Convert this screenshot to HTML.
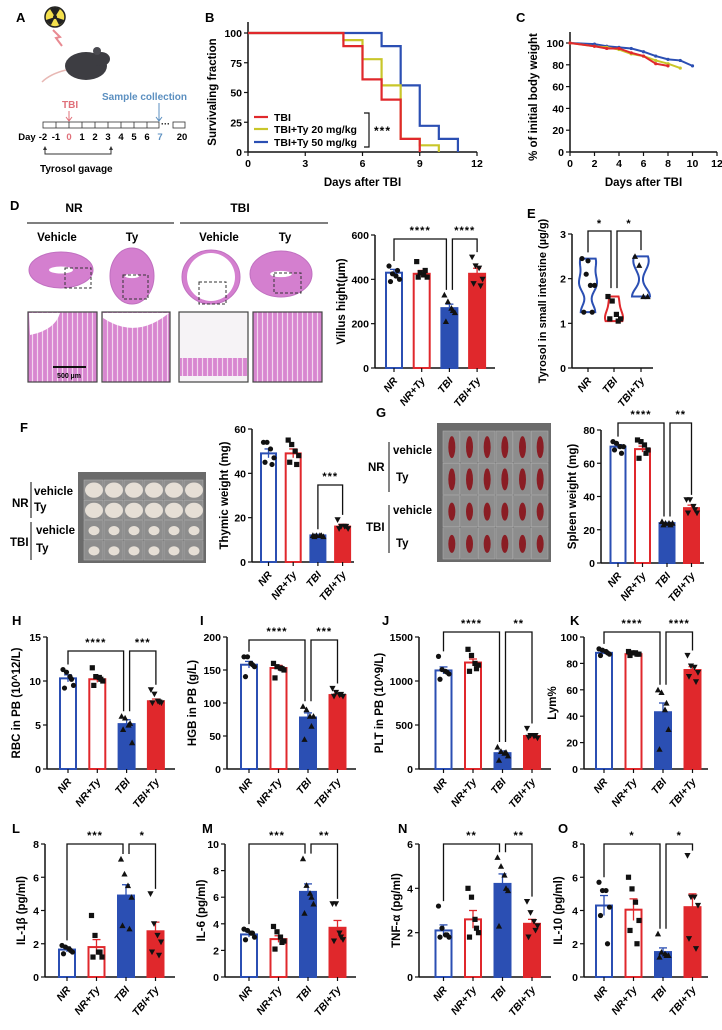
<!DOCTYPE html>
<html><head><meta charset="utf-8">
<style>
html,body{margin:0;padding:0;background:#fff;}
svg{display:block;font-family:"Liberation Sans",Arial,sans-serif;font-weight:bold;}
</style></head>
<body>
<svg id="fig" width="722" height="1030" viewBox="0 0 722 1030" xmlns="http://www.w3.org/2000/svg">
<defs>
<pattern id="villi" width="5" height="10" patternUnits="userSpaceOnUse"><rect width="5" height="10" fill="#d886d0"/><line x1="2.5" y1="0" x2="2.5" y2="10" stroke="#f3d6ee" stroke-width="1.2"/></pattern>
</defs>
<!-- Panel A -->
<g>
<text x="16" y="22" font-size="13">A</text>
<circle cx="55" cy="17" r="10" fill="#f4e04d" stroke="#222" stroke-width="1.5"/>
<circle cx="55" cy="17" r="2" fill="#222"/>
<path d="M55 17 L50 9 A9 9 0 0 1 60 9 Z M55 17 L64 20 A9 9 0 0 1 59 25 Z M55 17 L51 25 A9 9 0 0 1 46 20 Z" fill="#222"/>
<path d="M53 30 L60 37 L56 38 L62 46" stroke="#e88a92" stroke-width="2" fill="none"/>
<g>
<ellipse cx="86" cy="66" rx="21" ry="14" fill="#3d3d42"/>
<ellipse cx="101" cy="59" rx="9" ry="7" fill="#3d3d42"/>
<circle cx="97" cy="51" r="4" fill="#4a4a50"/>
<path d="M66 70 Q50 74 42 82" stroke="#e8b8b4" stroke-width="1.5" fill="none"/>
</g>
<g>
<rect x="43" y="122" width="116" height="6" fill="#fff" stroke="#333" stroke-width="0.8"/>
<g stroke="#333" stroke-width="0.8">
<line x1="56" y1="122" x2="56" y2="128"/><line x1="69" y1="122" x2="69" y2="128"/><line x1="82" y1="122" x2="82" y2="128"/><line x1="95" y1="122" x2="95" y2="128"/><line x1="108" y1="122" x2="108" y2="128"/><line x1="121" y1="122" x2="121" y2="128"/><line x1="134" y1="122" x2="134" y2="128"/><line x1="147" y1="122" x2="147" y2="128"/>
</g>
<text x="161" y="127" font-size="9">···</text>
<rect x="173" y="122" width="12" height="6" fill="#fff" stroke="#333" stroke-width="0.8"/>
<g font-size="9.5" text-anchor="middle">
<text x="27" y="140">Day</text><text x="43" y="140">-2</text><text x="56" y="140">-1</text><text x="69" y="140" fill="#e0707a">0</text>
<text x="82" y="140">1</text><text x="95" y="140">2</text><text x="108" y="140">3</text><text x="121" y="140">4</text>
<text x="134" y="140">5</text><text x="147" y="140">6</text><text x="160" y="140" fill="#5b8fc0">7</text><text x="182" y="140">20</text>
</g>
<text x="62" y="108" font-size="10" fill="#e0707a">TBI</text>
<line x1="69" y1="111" x2="69" y2="120" stroke="#e0707a" stroke-width="1"/><path d="M66 117 L69 121 L72 117" fill="none" stroke="#e0707a"/>
<text x="102" y="100" font-size="10" fill="#5b8fc0">Sample collection</text>
<line x1="159" y1="103" x2="159" y2="120" stroke="#5b8fc0" stroke-width="1"/><path d="M156 117 L159 121 L162 117" fill="none" stroke="#5b8fc0"/>
<path d="M45 148 L45 154 L111 154 L111 148" fill="none" stroke="#333" stroke-width="1"/>
<path d="M43 150 L45 146 L47 150 Z M109 150 L111 146 L113 150 Z" fill="#333"/>
<text x="40" y="172" font-size="10">Tyrosol gavage</text>
</g>
</g>
<g id="dyn"></g>
</svg>
<script>
// ---------- DATA ----------
const groups = ["NR","NR+Ty","TBI","TBI+Ty"];
const survTBI_t = [0,5,6,7,8,9];       const survTBI_v = [100,89,61,44,11,0];
const survTy20_t = [0,5,6,7,8,9,10];   const survTy20_v = [100,94,78,56,11,5.6,0];
const survTy50_t = [0,7,8,9,10,11];    const survTy50_v = [100,89,56,22,11,0];
const survTicksX = [0,3,6,9,12];       const survTicksY = [0,25,50,75,100];
const bwBlue_d = [0,2,3,4,5,6,7,8,9,10]; const bwBlue_v = [100,99,97,96,95,92,88,85,84,79];
const bwYel_d = [0,2,3,4,5,6,7,8,9];     const bwYel_v = [100,97,96,94,90,88,84,81,77];
const bwRed_d = [0,2,3,4,5,6,7,8];       const bwRed_v = [100,97,95,95,91,88,81,79];
const bwTicksX = [0,2,4,6,8,10,12];      const bwTicksY = [0,20,40,60,80,100];

const dMeans=[430,425,270,425]; const dSems=[15,15,18,25];
const dPts=[[460,425,415,400,390,440],[480,430,420,410,410,440],[330,300,270,250,210,260],[500,460,450,400,380,370]];
const dTicks=[0,200,400,600];
const eGroups=["NR","TBI","TBI+Ty"];
const ePts=[[2.45,2.1,1.85,1.85,1.25,1.25,2.4],[1.6,1.5,1.2,1.1,1.1,1.05],[2.5,2.3,1.6,1.6]];
const eTicks=[0,1,2,3];
const fMeans=[49,49,12,16]; const fSems=[2,2,0.5,1];
const fPts=[[54,54,51,47,45,44],[55,53,50,48,45,44],[12,12,12,11.5,11.5,12],[19,16,16,15,15,16]];
const fTicks=[0,20,40,60];
const gMeans=[70,68.5,24,33]; const gSems=[1.2,1.8,0.4,1.8];
const gPts=[[73,72,70,70,68,66],[74,73,71,68,63,66],[25,24,24,24,23,23],[38,38,34,30,30,32]];
const gTicks=[0,20,40,60,80];
const hMeans=[10.3,10.2,5.1,7.7]; const hSems=[0.4,0.35,0.5,0.25];
const hPts=[[11.3,11,10.5,9.5,9.2,10.2],[11.5,10.5,10.4,10,9.5,10.2],[6,5.8,5,3,4.5,5.2],[9,8.5,7.7,7.5,7.5,7.6]];
const hTicks=[0,5,10,15];
const iMeans=[158,153,78,112]; const iSems=[5,4,7,2];
const iPts=[[170,170,160,155,140,158],[160,155,153,150,138,152],[95,90,80,80,45,65],[122,116,112,110,110,113]];
const iTicks=[0,50,100,150,200];
const jMeans=[1120,1210,180,375]; const jSems=[40,40,25,15];
const jPts=[[1280,1130,1110,1080,1020,1100],[1360,1290,1200,1180,1110,1140],[250,200,180,150,100,190],[460,380,370,350,360,380]];
const jTicks=[0,500,1000,1500];
const kMeans=[88,87,43,75]; const kSems=[1,0.5,7,2.5];
const kPts=[[91,90,89,87,86,88],[89,88,88,87,86,87],[60,58,45,30,15,50],[86,78,77,73,70,66]];
const kTicks=[0,20,40,60,80,100];
const lMeans=[1.65,1.8,4.9,2.75]; const lSems=[0.15,0.45,0.65,0.55];
const lPts=[[1.9,1.8,1.7,1.5,1.4,1.6],[3.7,2.5,1.5,1.2,1.2,1.5],[7.1,6.2,5.5,4.8,3.1,2.9],[5,3.2,2.5,2.1,1.5,1.3]];
const lTicks=[0,2,4,6,8];
const mMeans=[3.2,2.85,6.4,3.7]; const mSems=[0.2,0.25,0.6,0.55];
const mPts=[[3.6,3.5,3.3,3.0,2.8,3.3],[3.8,3.4,3.0,2.7,2.1,2.6],[8.9,6.9,6.3,5.5,4.8,6.0],[5.5,5.5,3.3,2.8,2.7,3.0]];
const mTicks=[0,2,4,6,8,10];
const nMeans=[2.1,2.6,4.2,2.4]; const nSems=[0.25,0.4,0.45,0.2];
const nPts=[[3.2,2.2,1.9,1.8,1.8,1.9],[4.0,3.6,2.6,2.0,1.8,2.2],[5.4,5.0,4.6,3.9,2.3,4.0],[3.4,2.9,2.5,2.3,1.8,2.1]];
const nTicks=[0,2,4,6];
const oMeans=[4.3,4.05,1.5,4.2]; const oSems=[0.6,0.65,0.25,0.8];
const oPts=[[5.7,5.2,5.2,4.2,3.7,2.0],[6.0,5.3,4.5,3.4,2.8,2.0],[2.6,1.5,1.4,1.3,1.2,1.3],[7.3,4.8,4.8,4.3,2.3,1.7]];
const oTicks=[0,2,4,6,8];

// ---------- DRAW ----------
const NS="http://www.w3.org/2000/svg";
const root=document.getElementById('dyn');
const BLUE="#2b4fb3", RED="#e0282c", YEL="#c9c62a";
function mk(tag,attrs,parent){const e=document.createElementNS(NS,tag);for(const k in attrs)e.setAttribute(k,attrs[k]);(parent||root).appendChild(e);return e;}
function txt(x,y,s,size,parent,extra){const t=mk('text',Object.assign({x:x,y:y,'font-size':size},extra||{}),parent);t.textContent=s;return t;}
function grp(name){const g=mk('g',{});return g;}
function label(x,y,s){const t=txt(x,y,s,13,root);}

function yAxis(g,x0,yT,yB,max,ticks,fs){
  const y=v=>yB-(v/max)*(yB-yT);
  mk('line',{x1:x0,y1:yT,x2:x0,y2:yB,stroke:'#111','stroke-width':1.5},g);
  ticks.forEach(t=>{mk('line',{x1:x0-4,y1:y(t),x2:x0,y2:y(t),stroke:'#111','stroke-width':1.2},g);
    txt(x0-6,y(t)+4,String(t),fs||10.5,g,{'text-anchor':'end'});});
  return y;
}
function marker(g,shape,x,y){
  const s=2.6;
  if(shape===0) mk('circle',{cx:x,cy:y,r:s,fill:'#111'},g);
  else if(shape===1) mk('rect',{x:x-s,y:y-s,width:2*s,height:2*s,fill:'#111'},g);
  else if(shape===2) mk('path',{d:`M${x} ${y-s-0.5} L${x+s+0.5} ${y+s} L${x-s-0.5} ${y+s} Z`,fill:'#111'},g);
  else mk('path',{d:`M${x} ${y+s+0.5} L${x+s+0.5} ${y-s} L${x-s-0.5} ${y-s} Z`,fill:'#111'},g);
}
const jit=[-5,-1.5,2,5.5,-3.5,3.5,0];
function catLabels(g,cxs,yB,names){
  names.forEach((n,i)=>{const cx=cxs[i];
    mk('line',{x1:cx,y1:yB,x2:cx,y2:yB+4,stroke:'#111','stroke-width':1.2},g);
    const t=txt(cx+4,yB+13,n,10.5,g,{'text-anchor':'end','font-style':'italic',transform:`rotate(-50 ${cx+4} ${yB+13})`});
    });
}
function bracket(g,cxs,y,pairs,legBottoms,sy){
  pairs.forEach(p=>{const [a,b,s]=p;
    const xa=cxs[a]+(pairs.some(q=>q[1]===a)?3:0), xb=cxs[b]-(pairs.some(q=>q[0]===b)?3:0);
    mk('path',{d:`M${xa} ${legBottoms[a]} L${xa} ${y} L${xb} ${y} L${xb} ${legBottoms[b]}`,fill:'none',stroke:'#111','stroke-width':1.3},g);
    const t=txt((xa+xb)/2,y-(sy||5),s,11,g,{'text-anchor':'middle','letter-spacing':'1'});
    });
}
function barChart(o){
  const g=grp(o.name);
  const cxs=groups.map((_,i)=>o.first+i*o.sp);
  const y=yAxis(g,o.x0,o.yT,o.yB,o.max,o.ticks);
  mk('line',{x1:o.x0,y1:o.yB,x2:o.xEnd,y2:o.yB,stroke:'#111','stroke-width':1.5},g);
  const bw=o.bw||18;
  o.means.forEach((m,i)=>{
    const col=(i%2===0)?BLUE:RED, filled=i>=2, cx=cxs[i];
    const r=mk('rect',{x:cx-bw/2+1,y:y(m),width:bw-2,height:o.yB-y(m),fill:filled?col:'#fff',stroke:col,'stroke-width':2},g);
    
    
    const ys=y(m+o.sems[i]), yl=y(m-o.sems[i]);
    mk('line',{x1:cx,y1:ys,x2:cx,y2:filled?y(m):yl,stroke:col,'stroke-width':1.3},g);
    mk('line',{x1:cx-4,y1:ys,x2:cx+4,y2:ys,stroke:col,'stroke-width':1.3},g);
    o.pts[i].forEach((v,j)=>marker(g,i,cx+jit[j],y(v)));
  });
  catLabels(g,cxs,o.yB,groups);
  const yl=txt(o.ylx,(o.yT+o.yB)/2,o.ylab,11.5,g,{'text-anchor':'middle',transform:`rotate(-90 ${o.ylx} ${(o.yT+o.yB)/2})`});
  
  if(o.sig){const lb=o.pts.map((p,i)=>Math.max(o.sigY+6,y(Math.max(...p,o.means[i]+o.sems[i]))-5));
    bracket(g,cxs,o.sigY,o.sig,lb);}
}

// Panel B survival
(function(){
  label(205,22,'B');
  const g=grp('survival-chart');
  const x0=248,yT=22,yB=152, xs=v=>x0+v*(229/12);
  const y=yAxis(g,x0,33,yB,100,survTicksY);
  mk('line',{x1:x0,y1:yT,x2:x0,y2:33,stroke:'#111','stroke-width':1.5},g);
  mk('line',{x1:x0,y1:yB,x2:xs(12),y2:yB,stroke:'#111','stroke-width':1.5},g);
  survTicksX.forEach(t=>{mk('line',{x1:xs(t),y1:yB,x2:xs(t),y2:yB+4,stroke:'#111','stroke-width':1.2},g);txt(xs(t),yB+15,String(t),10.5,g,{'text-anchor':'middle'});});
  function step(ts,vs,col,nm){let d=`M${xs(ts[0])} ${y(vs[0])}`;
    for(let i=1;i<ts.length;i++){d+=` L${xs(ts[i])} ${y(vs[i-1])} L${xs(ts[i])} ${y(vs[i])}`;}
    const p=mk('path',{d:d,fill:'none',stroke:col,'stroke-width':2.2},g);}
  step(survTy50_t,survTy50_v,BLUE,'survival-curve-ty50');
  step(survTy20_t,survTy20_v,YEL,'survival-curve-ty20');
  step(survTBI_t,survTBI_v,RED,'survival-curve-tbi');
  const lg=grp('survival-legend');
  [["TBI",RED,117],["TBI+Ty 20 mg/kg",YEL,129],["TBI+Ty 50 mg/kg",BLUE,142]].forEach(e=>{
    mk('line',{x1:254,y1:e[2],x2:268,y2:e[2],stroke:e[1],'stroke-width':2.2},lg);
    const t=txt(274,e[2]+4,e[0],10.5,lg);});
  mk('path',{d:'M364 113 L369 113 L369 147 L364 147',fill:'none',stroke:'#111','stroke-width':1.2},lg);
  txt(374,135,'***',12,lg,{'letter-spacing':'1'});
  const xl=txt(xs(6),186,'Days after TBI',11.5,g,{'text-anchor':'middle'});
  const yl=txt(216,92,'Survivaling fraction',11.5,g,{'text-anchor':'middle',transform:'rotate(-90 216 92)'});
})();

// Panel C body weight
(function(){
  label(516,22,'C');
  const g=grp('body-weight-chart');
  const x0=570,yB=152,xs=v=>x0+v*(147/12);
  const y=yAxis(g,x0,43,yB,100,bwTicksY);
  mk('line',{x1:x0,y1:32,x2:x0,y2:43,stroke:'#111','stroke-width':1.5},g);
  mk('line',{x1:x0,y1:yB,x2:xs(12),y2:yB,stroke:'#111','stroke-width':1.5},g);
  bwTicksX.forEach(t=>{mk('line',{x1:xs(t),y1:yB,x2:xs(t),y2:yB+4,stroke:'#111','stroke-width':1.2},g);txt(xs(t),yB+15,String(t),10.5,g,{'text-anchor':'middle'});});
  function line(ds,vs,col,nm){const p=mk('polyline',{points:ds.map((d,i)=>xs(d)+','+y(vs[i])).join(' '),fill:'none',stroke:col,'stroke-width':2},g);
    
    ds.forEach((d,i)=>mk('circle',{cx:xs(d),cy:y(vs[i]),r:1.6,fill:col},g));}
  line(bwBlue_d,bwBlue_v,BLUE,'weight-line-ty50');
  line(bwYel_d,bwYel_v,YEL,'weight-line-ty20');
  line(bwRed_d,bwRed_v,RED,'weight-line-tbi');
  const xl=txt(xs(6),186,'Days after TBI',11.5,g,{'text-anchor':'middle'});
  const yl=txt(537,97,'% of initial body weight',11.5,g,{'text-anchor':'middle',transform:'rotate(-90 537 97)'});
})();

// Panel D histology
(function(){
  label(10,210,'D');
  const g=grp('histology-images');
  txt(74,212,'NR',12,g,{'text-anchor':'middle'});txt(240,212,'TBI',12,g,{'text-anchor':'middle'});
  mk('line',{x1:27,y1:223,x2:174,y2:223,stroke:'#333','stroke-width':1.3},g);
  mk('line',{x1:180,y1:223,x2:328,y2:223,stroke:'#333','stroke-width':1.3},g);
  [[57,'Vehicle'],[132,'Ty'],[219,'Vehicle'],[285,'Ty']].forEach(a=>txt(a[0],241,a[1],11.5,g,{'text-anchor':'middle'}));
  const circ=[[61,270,32,18,'#fff',10],[132,276,22,28,'#fff',6],[211,277,29,27,'#fafafa',24],[281,274,31,23,'#fff',9]];
  circ.forEach((c,i)=>{mk('ellipse',{cx:c[0],cy:c[1],rx:c[2],ry:c[3],fill:'#d47fcf',stroke:'#c070c0'},g);
    mk('ellipse',{cx:c[0],cy:c[1],rx:c[5]*(i===2?1:1.2),ry:c[5]*(i===2?1:0.35),fill:'#fff'},g);});
  [[65,268,26,20],[123,275,25,24],[199,282,27,22],[274,273,27,20]].forEach(r=>mk('rect',{x:r[0],y:r[1],width:r[2],height:r[3],fill:'none',stroke:'#333','stroke-dasharray':'3,2'},g));
  const boxes=[[28,97],[102,170],[179,248],[253,322]];
  boxes.forEach((b,i)=>{
    mk('rect',{x:b[0],y:312,width:b[1]-b[0],height:70,fill:i===2?'#f6f3f6':'url(#villi)',stroke:'#444','stroke-width':1.2},g);
    if(i===2) mk('rect',{x:b[0]+1,y:358,width:b[1]-b[0]-2,height:18,fill:'url(#villi)'},g);
    if(i===0) mk('path',{d:'M29 313 L60 313 Q55 330 30 335 Z',fill:'#fff'},g);
    if(i===1) mk('path',{d:'M103 313 L169 313 Q136 340 103 318 Z',fill:'#fff'},g);
  });
  mk('line',{x1:53,y1:367,x2:86,y2:367,stroke:'#111','stroke-width':2},g);
  txt(69,378,'500 µm',7,g,{'text-anchor':'middle'});
})();
barChart({name:'villus-height-chart',x0:375,xEnd:495,yT:235,yB:368,max:600,ticks:dTicks,first:394,sp:27.7,means:dMeans,sems:dSems,pts:dPts,ylab:'Villus hight(µm)',ylx:345,sig:[[0,2,'****'],[2,3,'****']],sigY:239});

// Panel E violin
(function(){
  label(527,218,'E');
  const g=grp('tyrosol-violin-chart');
  const x0=572,yT=234,yB=368;
  const y=yAxis(g,x0,yT,yB,3,eTicks);
  mk('line',{x1:x0,y1:yB,x2:653,y2:yB,stroke:'#111','stroke-width':1.5},g);
  const cxs=[588,614,641], cols=[BLUE,RED,BLUE], shp=[0,1,2];
  ePts.forEach((p,i)=>{
    const lo=Math.min(...p),hi=Math.max(...p),bw=0.18,N=24;let L=[],R=[];
    let dens=[];for(let k=0;k<=N;k++){const v=lo+(hi-lo)*k/N;let d=0;p.forEach(q=>d+=Math.exp(-0.5*((v-q)/bw)**2));dens.push([v,d]);}
    const mx=Math.max(...dens.map(d=>d[1]));
    dens.forEach(d=>{const w=9*d[1]/mx;L.push(`${cxs[i]-w},${y(d[0])}`);R.unshift(`${cxs[i]+w},${y(d[0])}`);});
    const v=mk('polygon',{points:L.concat(R).join(' '),fill:'#fff',stroke:cols[i],'stroke-width':2},g);
    
    p.forEach((q,j)=>marker(g,shp[i],cxs[i]+jit[j]*1.2,y(q)));
  });
  catLabels(g,cxs,yB,eGroups);
  bracket(g,cxs,231,[[0,1,'*'],[1,2,'*']],[y(2.5)-4,y(1.7)-4,y(2.55)-4],4);
  const yl=txt(546,301,'Tyrosol in small intestine (µg/g)',11,g,{'text-anchor':'middle',transform:'rotate(-90 546 301)'});
  
})();

// Panel F photo
function photo(name,x,y,w,h,rows,cols,drawOrgan){
  const g=grp(name);
  mk('rect',{x:x,y:y,width:w,height:h,fill:'#6b6b6b'},g);
  const cw=(w-8)/cols, ch=(h-10)/rows;
  for(let r=0;r<rows;r++)for(let c=0;c<cols;c++){
    const cx=x+6+c*cw, cy=y+8+r*ch;
    mk('rect',{x:cx,y:cy,width:cw-1,height:ch-1,fill:'#8d8d8d',stroke:'#aaa','stroke-width':0.6},g);
    drawOrgan(g,cx+cw/2,cy+ch/2,r);
  }
  return g;
}
label(20,432,'F');
photo('thymus-photo',78,472,128,91,4,6,(g,cx,cy,r)=>{const s=r<2?9:5.5;mk('ellipse',{cx:cx,cy:cy,rx:s,ry:s*0.85,fill:'#e6dfd6'},g);});
(function(){const g=grp('thymus-photo-labels');
  txt(12,507,'NR',11.5,g);txt(34,495,'vehicle',11.5,g);txt(34,511,'Ty',11.5,g);
  txt(10,546,'TBI',11.5,g);txt(36,534,'vehicle',11.5,g);txt(36,552,'Ty',11.5,g);
  mk('line',{x1:31,y1:482,x2:31,y2:518,stroke:'#333','stroke-width':1.2},g);
  mk('line',{x1:31,y1:522,x2:31,y2:560,stroke:'#333','stroke-width':1.2},g);})();
barChart({name:'thymic-weight-chart',x0:252,xEnd:354,yT:429,yB:562,max:60,ticks:fTicks,first:268.5,sp:24.7,bw:17,means:fMeans,sems:fSems,pts:fPts,ylab:'Thymic weight (mg)',ylx:228,sig:[[2,3,'***']],sigY:485});

// Panel G
label(376,417,'G');
photo('spleen-photo',437,423,114,139,4,6,(g,cx,cy,r)=>{const s=r<2?11:9;mk('ellipse',{cx:cx,cy:cy,rx:3.5,ry:s,fill:'#8a1d24'},g);});
(function(){const g=grp('spleen-photo-labels');
  txt(368,471,'NR',11.5,g);txt(393,454,'vehicle',11.5,g);txt(396,481,'Ty',11.5,g);
  txt(366,531,'TBI',11.5,g);txt(393,514,'vehicle',11.5,g);txt(396,547,'Ty',11.5,g);
  mk('line',{x1:389,y1:442,x2:389,y2:492,stroke:'#333','stroke-width':1.2},g);
  mk('line',{x1:389,y1:505,x2:389,y2:553,stroke:'#333','stroke-width':1.2},g);})();
barChart({name:'spleen-weight-chart',x0:601,xEnd:704,yT:430,yB:563,max:80,ticks:gTicks,first:618,sp:24.5,bw:17,means:gMeans,sems:gSems,pts:gPts,ylab:'Spleen weight (mg)',ylx:576,sig:[[0,2,'****'],[2,3,'**']],sigY:423});

// Row H-K
label(12,625,'H');label(200,625,'I');label(382,625,'J');label(570,625,'K');
barChart({name:'rbc-chart',x0:47,xEnd:175,yT:637,yB:769,max:15,ticks:hTicks,first:68,sp:29.3,means:hMeans,sems:hSems,pts:hPts,ylab:'RBC in PB (10^12/L)',ylx:20,sig:[[0,2,'****'],[2,3,'***']],sigY:651});
barChart({name:'hgb-chart',x0:227,xEnd:356,yT:637,yB:769,max:200,ticks:iTicks,first:249,sp:29.5,means:iMeans,sems:iSems,pts:iPts,ylab:'HGB in PB (g/L)',ylx:196,sig:[[0,2,'****'],[2,3,'***']],sigY:640});
barChart({name:'plt-chart',x0:419,xEnd:551,yT:637,yB:769,max:1500,ticks:jTicks,first:443.5,sp:29.5,means:jMeans,sems:jSems,pts:jPts,ylab:'PLT in PB (10^9/L)',ylx:383,sig:[[0,2,'****'],[2,3,'**']],sigY:632});
barChart({name:'lym-chart',x0:584,xEnd:708,yT:637,yB:769,max:100,ticks:kTicks,first:604,sp:29.5,means:kMeans,sems:kSems,pts:kPts,ylab:'Lym%',ylx:556,sig:[[0,2,'****'],[2,3,'****']],sigY:632});

// Row L-O
label(12,833,'L');label(202,833,'M');label(398,833,'N');label(558,833,'O');
barChart({name:'il1b-chart',x0:45,xEnd:175,yT:844,yB:977,max:8,ticks:lTicks,first:67,sp:29.5,means:lMeans,sems:lSems,pts:lPts,ylab:'IL-1β (pg/ml)',ylx:25,sig:[[0,2,'***'],[2,3,'*']],sigY:844});
barChart({name:'il6-chart',x0:225,xEnd:356,yT:844,yB:977,max:10,ticks:mTicks,first:249,sp:29.5,means:mMeans,sems:mSems,pts:mPts,ylab:'IL-6 (pg/ml)',ylx:205,sig:[[0,2,'***'],[2,3,'**']],sigY:844});
barChart({name:'tnfa-chart',x0:419,xEnd:551,yT:844,yB:977,max:6,ticks:nTicks,first:443.5,sp:29.5,means:nMeans,sems:nSems,pts:nPts,ylab:'TNF-α (pg/ml)',ylx:400,sig:[[0,2,'**'],[2,3,'**']],sigY:844});
barChart({name:'il10-chart',x0:584,xEnd:708,yT:844,yB:977,max:8,ticks:oTicks,first:604,sp:29.5,means:oMeans,sems:oSems,pts:oPts,ylab:'IL-10 (pg/ml)',ylx:562,sig:[[0,2,'*'],[2,3,'*']],sigY:844});
</script>
</body></html>
